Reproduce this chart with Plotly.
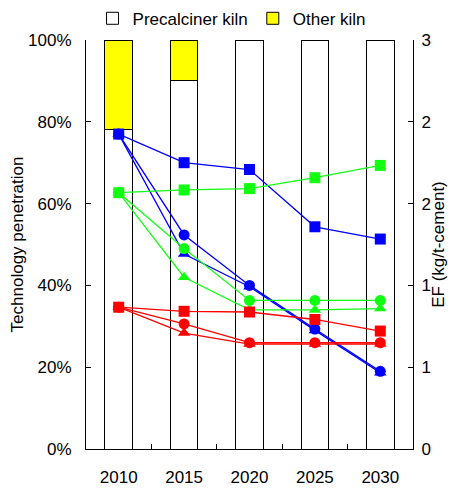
import plotly.graph_objects as go

years = ["2010", "2015", "2020", "2025", "2030"]
precalciner = [0.78, 0.90, 1.00, 1.00, 1.00]
other = [0.22, 0.10, 0.00, 0.00, 0.00]

blue_sq = [2.31, 2.10, 2.05, 1.63, 1.54]
blue_ci = [2.31, 1.57, 1.20, 0.88, 0.57]
blue_tr = [2.31, 1.43, 1.19, 0.87, 0.56]
green_sq = [1.88, 1.90, 1.91, 1.99, 2.08]
green_ci = [1.88, 1.47, 1.09, 1.09, 1.09]
green_tr = [1.88, 1.26, 1.02, 1.02, 1.03]
red_sq = [1.04, 1.01, 1.005, 0.95, 0.865]
red_ci = [1.04, 0.917, 0.78, 0.78, 0.78]
red_tr = [1.04, 0.85, 0.77, 0.77, 0.77]

right_ticks = [0, 0.6, 1.2, 1.8, 2.4, 3.0]
left_ticks = [0, 0.2, 0.4, 0.6, 0.8, 1.0]

fig = go.Figure()
fig.add_trace(go.Bar(x=years, y=precalciner, name="Precalciner kiln",
                     marker=dict(color="white", line=dict(color="black", width=1))))
fig.add_trace(go.Bar(x=years, y=other, name="Other kiln",
                     marker=dict(color="#FFFF00", line=dict(color="black", width=1))))

series = [
    (blue_sq, "#0000FF", "square"), (blue_ci, "#0000FF", "circle"), (blue_tr, "#0000FF", "triangle-up"),
    (green_sq, "#11FF11", "square"), (green_ci, "#11FF11", "circle"), (green_tr, "#11FF11", "triangle-up"),
    (red_sq, "#FF0000", "square"), (red_ci, "#FF0000", "circle"), (red_tr, "#FF0000", "triangle-up"),
]
for vals, col, sym in series:
    fig.add_trace(go.Scatter(x=years, y=vals, yaxis="y2", mode="lines+markers",
                             line=dict(color=col, width=1.3),
                             marker=dict(symbol=sym, size=11, color=col),
                             showlegend=False))

FONT = "Liberation Sans, Arial, sans-serif"
fig.update_layout(
    width=440, height=489,
    margin=dict(l=78, r=35, t=32, b=48, autoexpand=False),
    barmode="stack", bargap=0.58,
    plot_bgcolor="white", paper_bgcolor="white",
    font=dict(family=FONT, size=17, color="black"),
    legend=dict(orientation="h", x=0.02, xanchor="left", y=1.052, yanchor="middle",
                font=dict(size=17), traceorder="normal", itemwidth=30,
                bgcolor="rgba(0,0,0,0)"),
    xaxis=dict(type="category", showline=True, linecolor="black", linewidth=1,
               ticks="inside", tickson="boundaries", ticklen=5, tickcolor="black",
               showgrid=False, tickfont=dict(size=17), automargin=False,
               ticklabelstandoff=13),
    yaxis=dict(range=[0, 1], tickvals=left_ticks, tickformat=".0%", showline=True,
               linecolor="black", ticks="inside", ticklen=5, tickcolor="black",
               showgrid=False, zeroline=False, automargin=False,
               ticklabelstandoff=10, tickfont=dict(size=17),
               title=dict(text="Technology penetration", font=dict(size=17), standoff=2)),
    yaxis2=dict(range=[0, 3], tickvals=right_ticks, tickformat=".0f", overlaying="y",
                side="right", showline=True, linecolor="black", ticks="inside",
                ticklen=5, tickcolor="black", showgrid=False, zeroline=False,
                automargin=False, ticklabelstandoff=4, tickfont=dict(size=17),
                title=dict(text="EF (kg/t-cement)", font=dict(size=17), standoff=4)),
)

fig.write_html("out.html")
